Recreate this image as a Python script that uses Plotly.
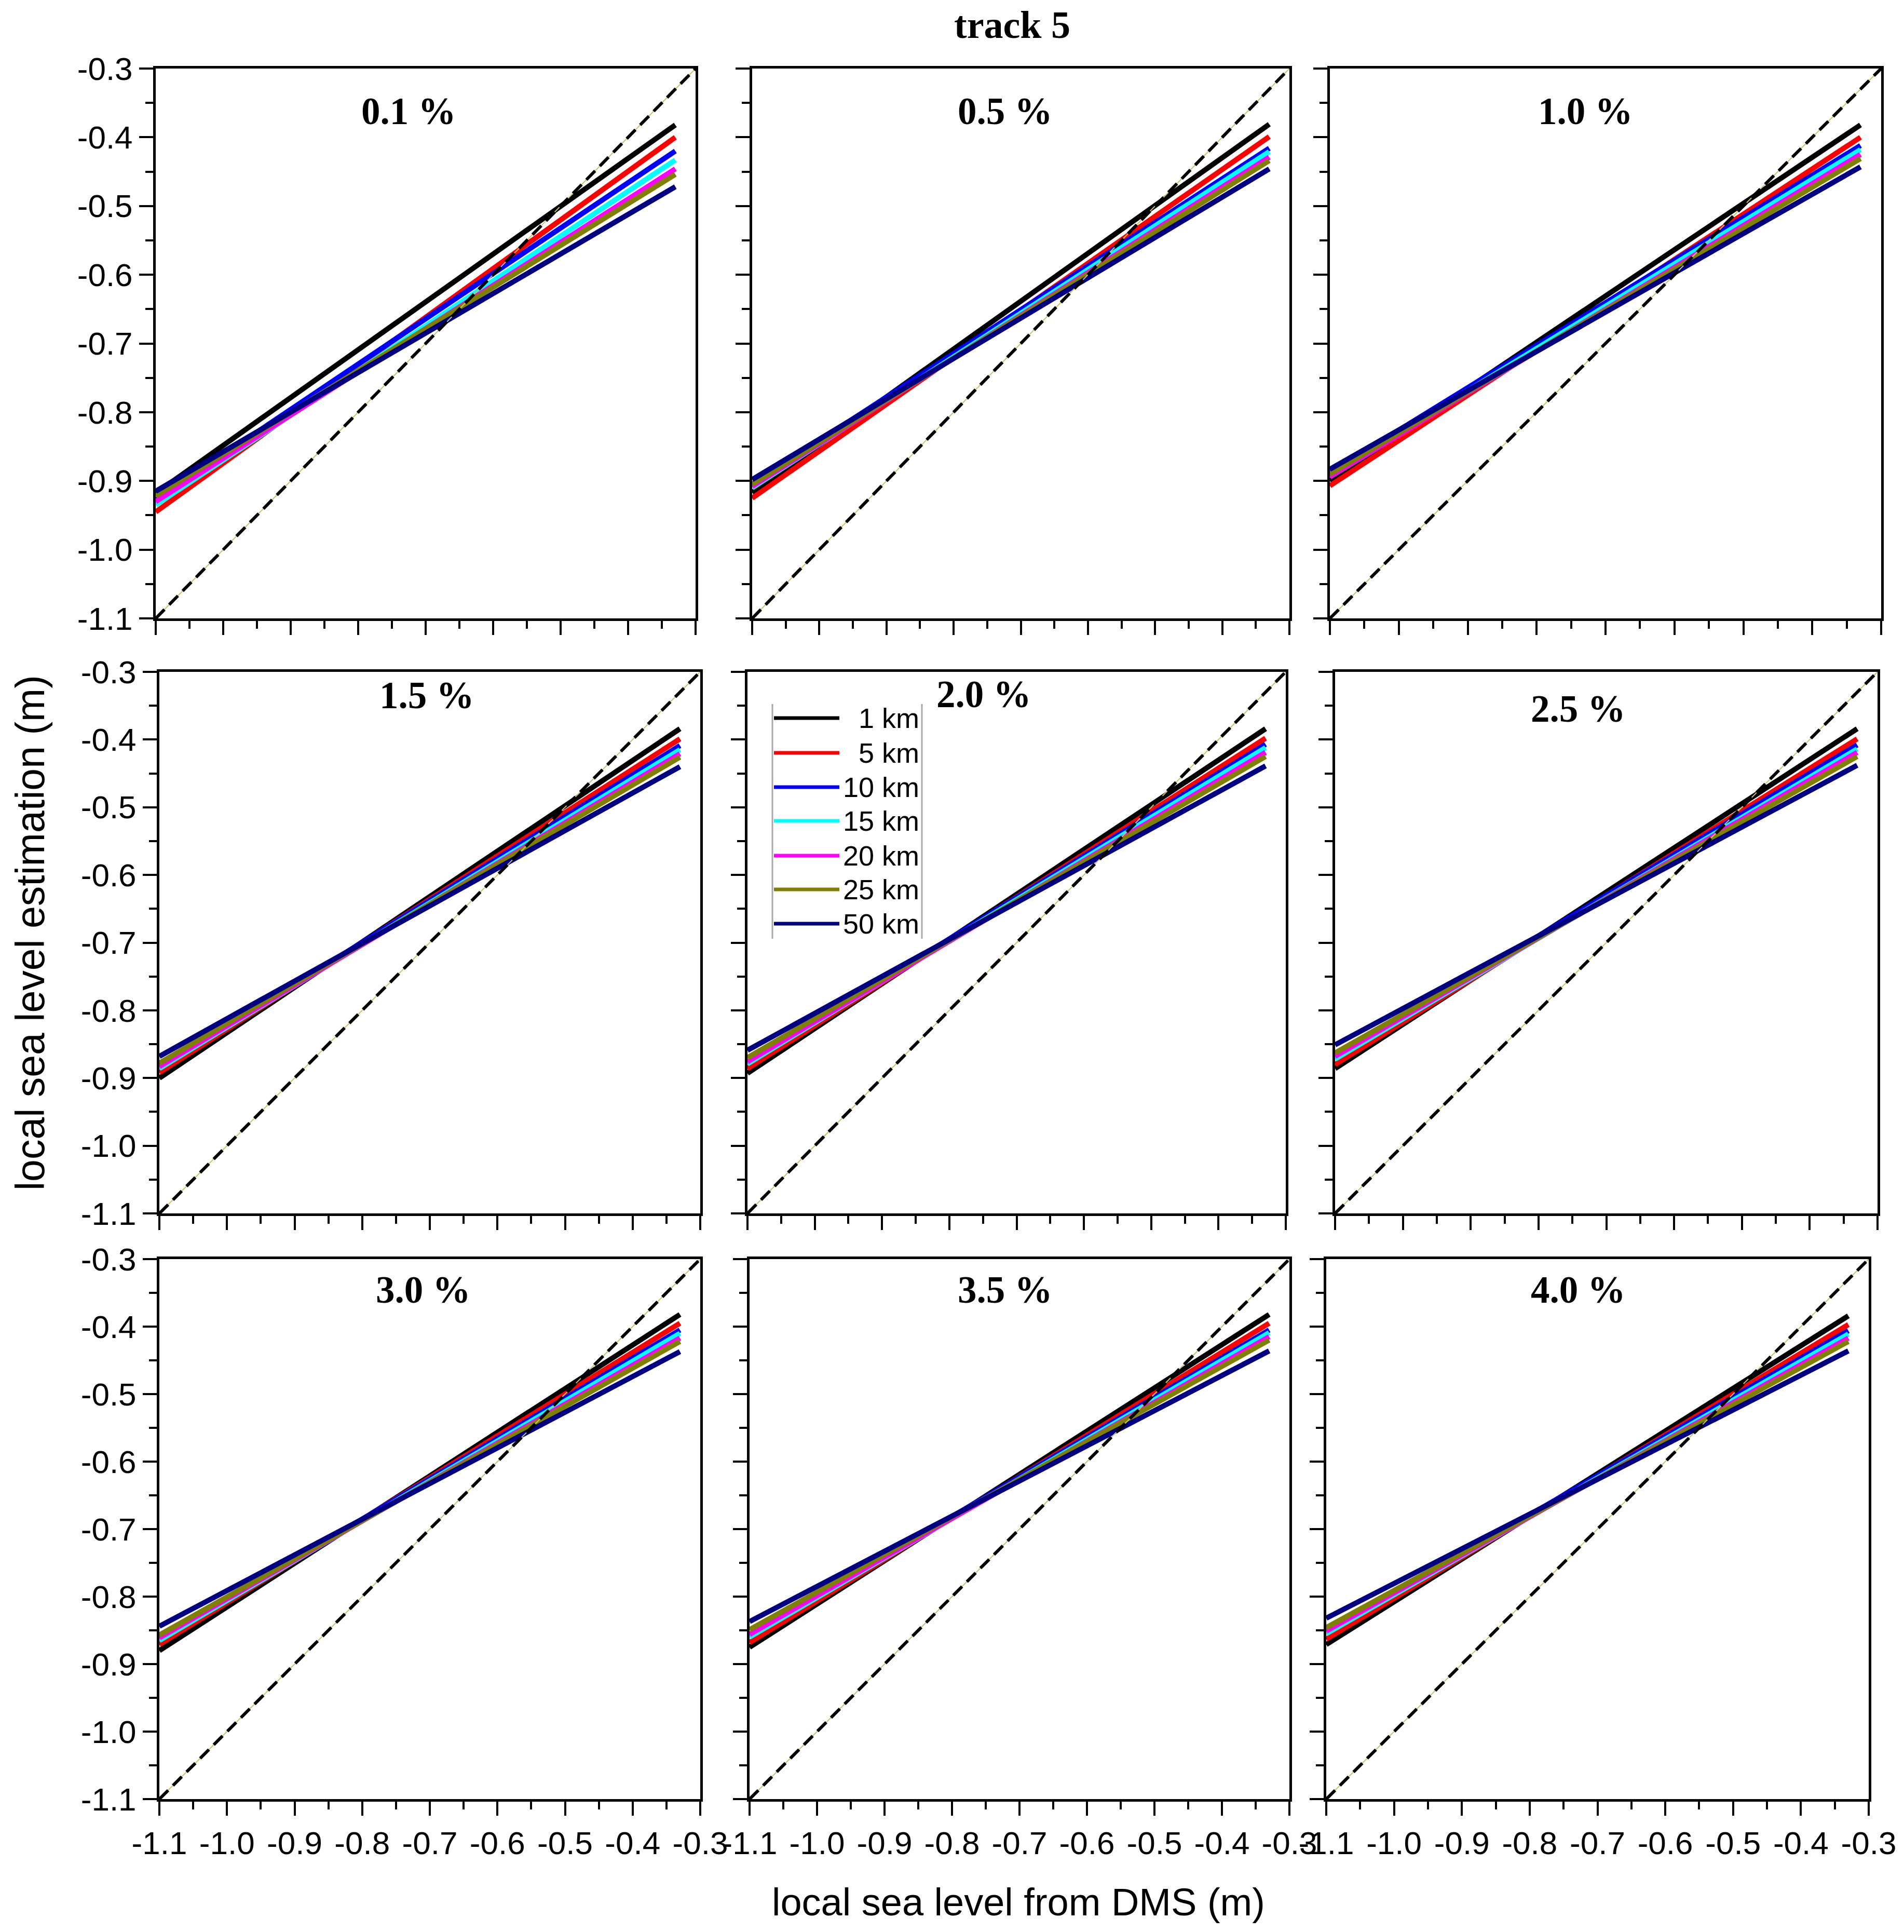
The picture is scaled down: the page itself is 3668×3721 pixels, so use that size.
import plotly.graph_objects as go

# ---------------- data ----------------
PANEL_TITLES = ["0.1 %", "0.5 %", "1.0 %", "1.5 %", "2.0 %", "2.5 %", "3.0 %", "3.5 %", "4.0 %"]
SERIES_NAMES = ["1 km", "5 km", "10 km", "15 km", "20 km", "25 km", "50 km"]
SERIES_COLORS = ["#000000", "#FF0000", "#0000FF", "#00FFFF", "#FF00FF", "#808000", "#000080"]

# x positions (local sea level from DMS, m) of the start / end of every fitted line
LINE_X = [-1.1, -0.33]
# 1:1 reference line
DIAG_X = [-1.1, -0.3]
DIAG_Y = [-1.1, -0.3]

# estimated sea level at LINE_X[0] (start) and LINE_X[1] (end); order = SERIES_NAMES
START_01 = [-0.918, -0.945, -0.928, -0.935, -0.930, -0.922, -0.915]
END_01   = [-0.382, -0.400, -0.420, -0.433, -0.446, -0.454, -0.472]
START_05 = [-0.917, -0.925, -0.905, -0.910, -0.908, -0.905, -0.898]
END_05   = [-0.381, -0.399, -0.416, -0.421, -0.429, -0.434, -0.446]
START_10 = [-0.900, -0.907, -0.888, -0.892, -0.894, -0.890, -0.883]
END_10   = [-0.382, -0.400, -0.412, -0.418, -0.425, -0.431, -0.443]
START_15 = [-0.900, -0.892, -0.885, -0.886, -0.883, -0.878, -0.868]
END_15   = [-0.384, -0.399, -0.409, -0.415, -0.421, -0.426, -0.440]
START_20 = [-0.893, -0.886, -0.878, -0.879, -0.876, -0.870, -0.859]
END_20   = [-0.384, -0.398, -0.407, -0.412, -0.419, -0.425, -0.439]
START_25 = [-0.886, -0.880, -0.870, -0.872, -0.868, -0.863, -0.851]
END_25   = [-0.384, -0.399, -0.408, -0.414, -0.419, -0.425, -0.438]
START_30 = [-0.880, -0.871, -0.864, -0.865, -0.861, -0.857, -0.844]
END_30   = [-0.382, -0.395, -0.405, -0.410, -0.417, -0.422, -0.437]
START_35 = [-0.875, -0.868, -0.858, -0.860, -0.856, -0.849, -0.837]
END_35   = [-0.382, -0.395, -0.405, -0.409, -0.415, -0.420, -0.436]
START_40 = [-0.871, -0.863, -0.853, -0.855, -0.851, -0.846, -0.832]
END_40   = [-0.384, -0.397, -0.406, -0.411, -0.417, -0.422, -0.436]

PANEL_STARTS = [START_01, START_05, START_10, START_15, START_20, START_25, START_30, START_35, START_40]
PANEL_ENDS = [END_01, END_05, END_10, END_15, END_20, END_25, END_30, END_35, END_40]

TICK_VALS = [-1.1, -1.0, -0.9, -0.8, -0.7, -0.6, -0.5, -0.4, -0.3]
TICK_TEXT = ["-1.1", "-1.0", "-0.9", "-0.8", "-0.7", "-0.6", "-0.5", "-0.4", "-0.3"]

# ---------------- layout (pixels) ----------------
W, H = 3668, 3721
# (left, right, top, bottom) of every panel
BOXES = [
    (292, 1332, 124, 1183), (1441, 2476, 124, 1183), (2554, 3616, 124, 1183),
    (299, 1341, 1286, 2329), (1432, 2469, 1286, 2329), (2564, 3609, 1286, 2329),
    (299, 1341, 2417, 3457), (1436, 2476, 2417, 3457), (2547, 3592, 2417, 3457),
]
TITLE_POS = [
    (779, 207), (1928, 207), (3046, 207),
    (814, 1331), (1887, 1329), (3032, 1357),
    (807, 2476), (1928, 2476), (3032, 2476),
]

SANS = "Liberation Sans"
SERIF = "Liberation Serif"


def px_x(v):
    return v / W


def px_y(v):
    return 1 - v / H


fig = go.Figure()

for i in range(9):
    sfx = "" if i == 0 else str(i + 1)
    xa, ya = "x" + sfx, "y" + sfx
    for name, color, y0, y1 in zip(SERIES_NAMES, SERIES_COLORS, PANEL_STARTS[i], PANEL_ENDS[i]):
        fig.add_trace(go.Scatter(
            x=LINE_X, y=[y0, y1], mode="lines", name=name,
            line=dict(color=color, width=10), xaxis=xa, yaxis=ya,
            showlegend=False, hoverinfo="skip"))
    # 1:1 line: faint olive underlay + black dashes on top
    fig.add_trace(go.Scatter(
        x=DIAG_X, y=DIAG_Y, mode="lines", line=dict(color="#c9c46a", width=2),
        xaxis=xa, yaxis=ya, showlegend=False, hoverinfo="skip"))
    fig.add_trace(go.Scatter(
        x=DIAG_X, y=DIAG_Y, mode="lines", line=dict(color="black", width=6, dash="24px,13px"),
        xaxis=xa, yaxis=ya, showlegend=False, hoverinfo="skip"))

    l, r, t, b = BOXES[i]
    row, col = divmod(i, 3)
    common = dict(
        range=[-1.1, -0.3], tickmode="array", tickvals=TICK_VALS, ticktext=TICK_TEXT,
        ticks="outside", ticklen=27, tickwidth=4, tickcolor="black",
        showline=True, linewidth=5, linecolor="black", mirror=True,
        showgrid=False, zeroline=False, automargin=False,
        minor=dict(ticks="outside", ticklen=15, tickwidth=4, tickcolor="black",
                   tickmode="linear", tick0=-1.1, dtick=0.05, showgrid=False),
        tickfont=dict(family=SANS, size=62, color="black"),
    )
    fig.layout["xaxis" + sfx] = dict(
        common, domain=[px_x(l), px_x(r)], anchor=ya, showticklabels=(row == 2))
    fig.layout["yaxis" + sfx] = dict(
        common, domain=[px_y(b), px_y(t)], anchor=xa, showticklabels=(col == 0))

annotations = []
for i, (tx, ty) in enumerate(TITLE_POS):
    annotations.append(dict(
        x=px_x(tx), y=px_y(ty), xref="paper", yref="paper", showarrow=False,
        text="<b>" + PANEL_TITLES[i] + "</b>", xanchor="center", yanchor="middle",
        font=dict(family=SERIF, size=73, color="black")))

annotations.append(dict(
    x=px_x(1942), y=px_y(40), xref="paper", yref="paper", showarrow=False,
    text="<b>track 5</b>", xanchor="center", yanchor="middle",
    font=dict(family=SERIF, size=74, color="black")))
annotations.append(dict(
    x=px_x(1954), y=px_y(3655), xref="paper", yref="paper", showarrow=False,
    text="local sea level from DMS (m)", xanchor="center", yanchor="middle",
    font=dict(family=SANS, size=74, color="black")))
annotations.append(dict(
    x=px_x(50), y=px_y(1789), xref="paper", yref="paper", showarrow=False,
    text="local sea level estimation (m)", textangle=-90, xanchor="center", yanchor="middle",
    font=dict(family=SANS, size=77, color="black")))

# hand-drawn legend in the 2.0 % panel
shapes = []
LEG_ROWS = [1375, 1442, 1508, 1573, 1640, 1705, 1771]
for name, color, yy in zip(SERIES_NAMES, SERIES_COLORS, LEG_ROWS):
    shapes.append(dict(type="line", xref="paper", yref="paper",
                       x0=px_x(1483), x1=px_x(1609), y0=px_y(yy), y1=px_y(yy),
                       line=dict(color=color, width=7)))
    annotations.append(dict(
        x=px_x(1765), y=px_y(yy), xref="paper", yref="paper", showarrow=False,
        text=name, xanchor="right", yanchor="middle",
        font=dict(family=SANS, size=54, color="black")))
for gx in (1480, 1768):
    shapes.append(dict(type="line", xref="paper", yref="paper",
                       x0=px_x(gx), x1=px_x(gx), y0=px_y(1348), y1=px_y(1800),
                       line=dict(color="#a8a8a8", width=3)))

fig.update_layout(
    template="none",
    width=W, height=H, margin=dict(l=0, r=0, t=0, b=0, pad=0),
    paper_bgcolor="white", plot_bgcolor="white",
    showlegend=False, annotations=annotations, shapes=shapes,
)

fig.write_html("out.html")
